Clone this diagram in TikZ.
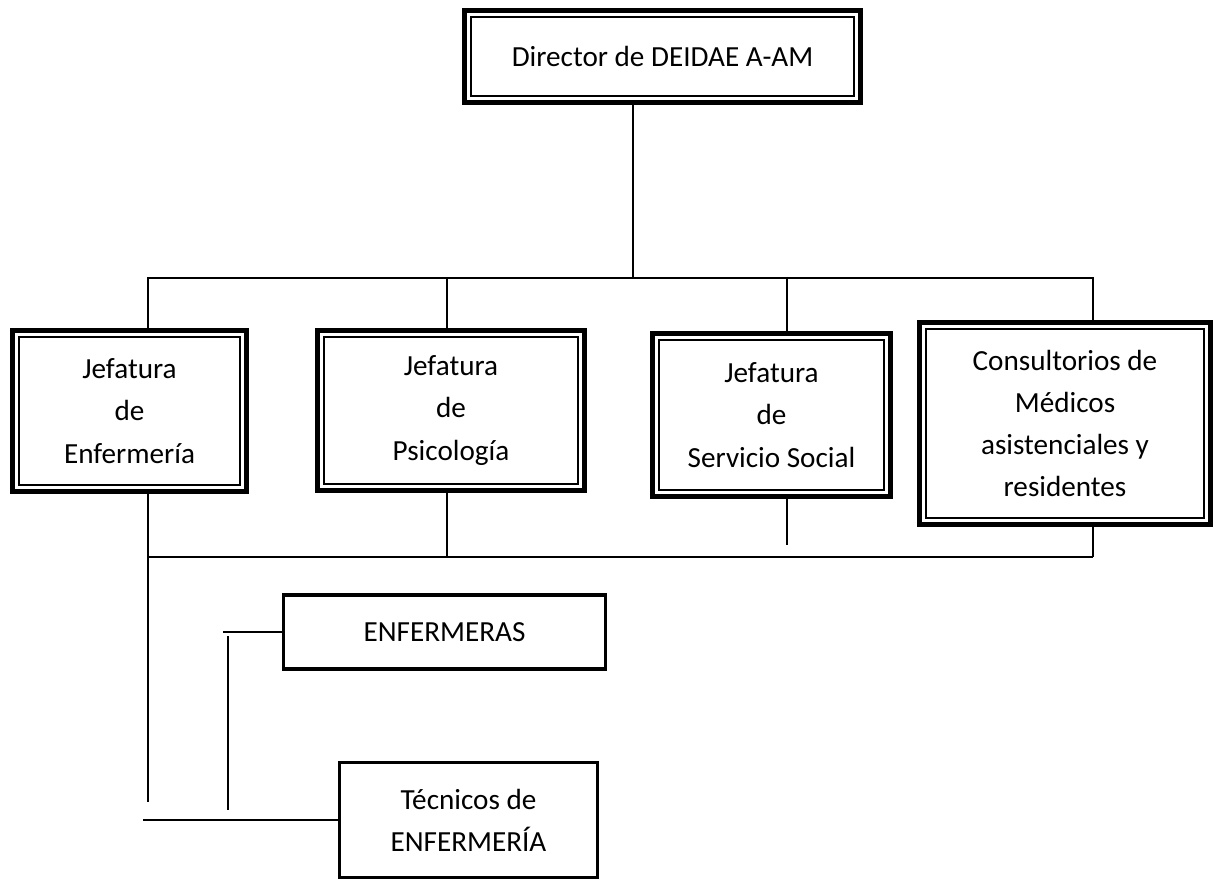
\documentclass[tikz,border=0pt]{standalone}
\usepackage{fontspec}
\setmainfont{Carlito}
\tikzset{
  jefbox/.style={draw, line width=2.8pt, align=center, inner sep=0pt, font=\fontsize{16.6}{24}\selectfont},
  subbox/.style={draw, line width=1.8pt, align=center, inner sep=0pt, font=\fontsize{16.6}{24}\selectfont},
  conn/.style={line width=1.1pt}
}
\begin{document}
\begin{tikzpicture}[x=0.02cm,y=-0.02cm]
\useasboundingbox (0,0) rectangle (1215,881);
% Boxes
\node[jefbox, minimum width=7.92cm, minimum height=1.84cm] (dir) at (662.5,56.5) {Director de DEIDAE A-AM};
\node[jefbox, minimum width=4.68cm, minimum height=3.22cm] (enf) at (129.5,411) {Jefatura\\de\\Enfermería};
\node[jefbox, minimum width=5.34cm, minimum height=3.2cm] (psi) at (451,410.5) {Jefatura\\de\\Psicología};
\node[jefbox, minimum width=4.76cm, minimum height=3.26cm] (soc) at (771.5,415) {Jefatura\\de\\Servicio Social};
\node[jefbox, minimum width=5.82cm, minimum height=4.04cm] (con) at (1065,423.5) {Consultorios de\\Médicos\\asistenciales y\\residentes};
\node[subbox, minimum width=6.44cm, minimum height=1.48cm] (enfs) at (444.5,632) {ENFERMERAS};
\node[subbox, minimum width=5.16cm, minimum height=2.3cm] (tec) at (468.5,820) {Técnicos de\\ENFERMERÍA};
% inner lines
\foreach \n in {dir,enf,psi,soc,con}
  \draw[line width=1.1pt] ([shift={(0.18cm,0.18cm)}]\n.south west) rectangle ([shift={(-0.18cm,-0.18cm)}]\n.north east);
% Upper bus
\coordinate (b0) at (633,278);
\coordinate (b1) at (148,278);
\coordinate (b2) at (447,278);
\coordinate (b3) at (787,278);
\coordinate (b4) at (1093,278);
\draw[conn] (dir.south -| b0) -- (b0);
\draw[conn] (enf.north -| b1) -- (b1) -- (b4) -- (con.north -| b4);
\draw[conn] (b2) -- (psi.north -| b2);
\draw[conn] (b3) -- (soc.north -| b3);
% Lower bus
\coordinate (c1) at (148,557);
\coordinate (c2) at (447,557);
\coordinate (c3) at (787,545);
\coordinate (c4) at (1093,557);
\coordinate (d1) at (148,802);
\draw[conn] (c1) -- (c4);
\draw[conn] (psi.south -| c2) -- (c2);
\draw[conn] (soc.south -| c3) -- (c3);
\draw[conn] (con.south -| c4) -- (c4);
\draw[conn] (enf.south -| d1) -- (d1);
% Enfermeras
\coordinate (e1) at (223,632);
\coordinate (e2) at (228,636);
\coordinate (e3) at (228,810);
\coordinate (t1) at (143,822);
\draw[conn] (enfs.west) -- (enfs.west -| e1);
\draw[conn] (e2) -- (e3);
\draw[conn] (t1 |- tec.west) -- (tec.west);
\end{tikzpicture}
\end{document}
